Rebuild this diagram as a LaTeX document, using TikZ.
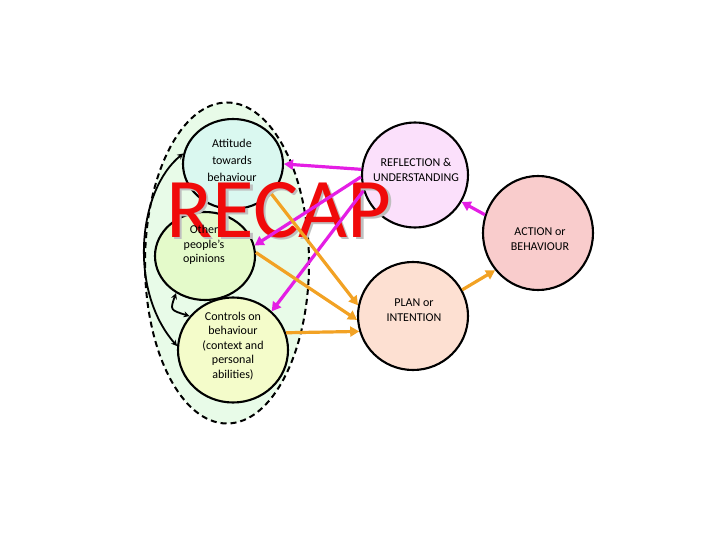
\documentclass[tikz,border=0pt]{standalone}
\usepackage{fontspec}
\setmainfont{Carlito}
\usetikzlibrary{shapes.geometric,arrows.meta}
\definecolor{mag}{RGB}{228,30,228}
\definecolor{org}{RGB}{242,162,36}
\definecolor{grpfill}{RGB}{232,251,232}
\definecolor{attfill}{RGB}{218,248,240}
\definecolor{othfill}{RGB}{228,250,202}
\definecolor{ctrlfill}{RGB}{244,252,202}
\definecolor{reflfill}{RGB}{251,224,251}
\definecolor{planfill}{RGB}{253,224,210}
\definecolor{actfill}{RGB}{249,204,204}
\definecolor{recapred}{RGB}{240,10,10}
\tikzset{
  bubble/.style={ellipse, draw=black, line width=2.1pt, inner sep=0pt},
  lbl/.style={font=\fontsize{12}{14.5}\selectfont, align=center, inner sep=0pt},
  magarrow/.style={draw=mag, line width=3.2pt, -{Triangle[length=9pt,width=10pt]}},
  orgarrow/.style={draw=org, line width=3.2pt, -{Triangle[length=9pt,width=10pt]}},
  blkarrow/.style={draw=black, line width=1.8pt, {Stealth[length=6pt,width=6pt]}-{Stealth[length=6pt,width=6pt]}},
}
\begin{document}
\begin{tikzpicture}[x=1pt,y=-1pt]
\useasboundingbox (0,0) rectangle (720,540);
% group
\node[ellipse, draw=black, dash pattern=on 6pt off 4pt, line width=2pt, fill=grpfill,
      minimum width=164pt, minimum height=321pt, inner sep=0pt] (grp) at (227,263) {};
% circles
\node[bubble, fill=attfill, minimum width=100pt, minimum height=90pt] (att) at (233,164) {};
\node[bubble, fill=othfill, minimum width=100pt, minimum height=88pt] (oth) at (205,256) {};
\node[bubble, fill=ctrlfill, minimum width=110pt, minimum height=105pt] (ctrl) at (233,350) {};
\node[bubble, fill=reflfill, minimum width=106pt, minimum height=105pt] (refl) at (415,175) {};
\node[bubble, fill=planfill, minimum width=110pt, minimum height=108pt] (plan) at (413,316) {};
\node[bubble, fill=actfill, minimum width=110pt, minimum height=114pt] (act) at (538,233) {};
% RECAP
\node[anchor=base, text=black!25, font=\fontsize{85}{85}\selectfont, inner sep=0pt] (recapshadow) at (281.5,239.5) {RECAP};
\node[anchor=base, text=recapred, font=\fontsize{85}{85}\selectfont, inner sep=0pt] (recap) at (279,237) {RECAP};
% black arrows
\draw[blkarrow] (att.168) .. controls (138,190) and (128,290) .. (ctrl.176);
\draw[blkarrow] (oth.232) .. controls (170,310) .. (ctrl.142);
% magenta arrows
\draw[magarrow] (refl.174) -- (att.0);
\draw[magarrow] (refl.182) -- (oth.12);
\draw[magarrow] (refl.197) -- (ctrl.45);
\draw[magarrow] (act.161) -- (refl.330);
% orange arrows
\draw[orgarrow] (att.322) -- (plan.169);
\draw[orgarrow] (oth.4) -- (plan.184);
\draw[orgarrow] (ctrl.18) -- (plan.196);
\draw[orgarrow] (plan.28) -- (act.221);
% labels
\node[lbl, font=\fontsize{12}{17}\selectfont] (attlbl) at (232,160) {Attitude\\towards\\behaviour};
\node[lbl] (othlbl) at (204,245) {Other\\people’s\\opinions};
\node[lbl] (ctrllbl) at (233,346) {Controls on\\behaviour\\(context and\\personal\\abilities)};
\node[lbl] (refllbl) at (416,170) {REFLECTION \&\\UNDERSTANDING};
\node[lbl] (planlbl) at (414,310) {PLAN or\\INTENTION};
\node[lbl] (actlbl) at (540,239) {ACTION or\\BEHAVIOUR};
\end{tikzpicture}
\end{document}
